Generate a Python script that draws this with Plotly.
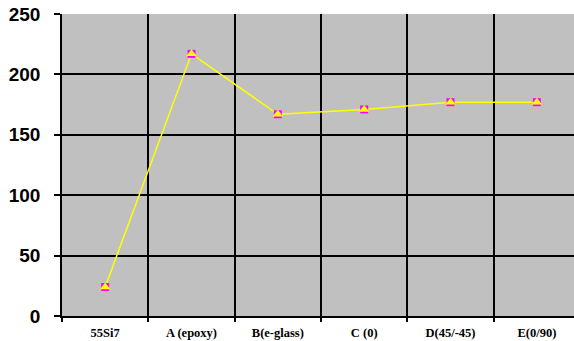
import plotly.graph_objects as go

categories = ["55Si7", "A (epoxy)", "B(e-glass)", "C (0)", "D(45/-45)", "E(0/90)"]
values = [24, 217, 167, 171, 177, 177]
y_ticks = [0, 50, 100, 150, 200, 250]

fig = go.Figure()
fig.add_trace(go.Scatter(
    x=categories, y=values, mode="lines+markers",
    line=dict(color="#ffff00", width=1.5),
    marker=dict(symbol="square", size=8, color="#ff00ff", line=dict(width=0)),
    hoverinfo="skip", showlegend=False, cliponaxis=False,
))
fig.add_trace(go.Scatter(
    x=categories, y=values, mode="markers",
    marker=dict(symbol="triangle-up", size=9, color="#ffff00", line=dict(width=0)),
    hoverinfo="skip", showlegend=False, cliponaxis=False,
))

fig.update_layout(
    width=574, height=341,
    margin=dict(l=62, r=0, t=14, b=25),
    paper_bgcolor="white", plot_bgcolor="#c0c0c0",
    xaxis=dict(
        type="category", range=[-0.5, 5.43], tickson="boundaries",
        automargin=False,
        showgrid=True, gridcolor="#000000", gridwidth=1.5,
        showline=True, linecolor="#000000", linewidth=1.5,
        ticks="outside", ticklen=4, tickcolor="#000000", tickwidth=1.5,
        ticklabelstandoff=4,
        tickfont=dict(family="Liberation Serif", size=12.5, color="#000000", weight="bold"),
        fixedrange=True,
    ),
    yaxis=dict(
        range=[0, 250], tickvals=y_ticks,
        automargin=False,
        showgrid=True, gridcolor="#000000", gridwidth=1.5,
        showline=True, linecolor="#000000", linewidth=1.5,
        zeroline=False,
        ticks="outside", ticklen=6, tickcolor="#000000", tickwidth=1.5,
        ticklabelstandoff=10,
        tickfont=dict(family="Liberation Sans", size=19, color="#000000", weight="bold"),
        fixedrange=True,
    ),
)

fig.write_html(
    "out.html",
    config={"displayModeBar": False},
    post_script="document.body.style.margin='0';document.body.style.padding='0';",
)
